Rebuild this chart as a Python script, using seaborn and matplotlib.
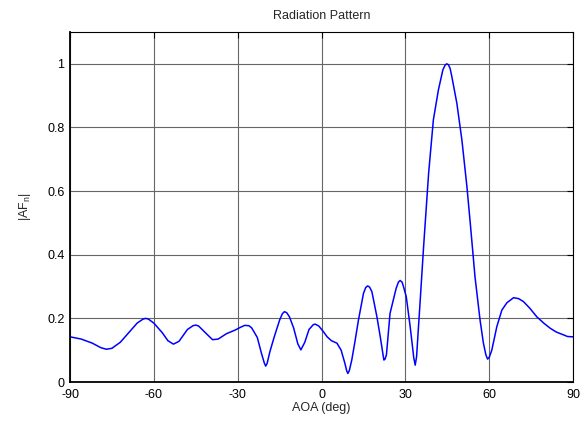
import pandas as pd
import seaborn as sns
import matplotlib.pyplot as plt

# Values (angle in deg, normalised |AF|)
aoa = [-90, -86, -82, -79, -77, -75, -72, -69, -66, -64, -63, -62, -60, -57, -55,
       -53, -51, -48, -46, -45, -44, -41, -39, -37, -34, -31, -29, -27.5, -26,
       -25, -23, -21.5, -20.5, -20, -19.5, -18.5, -17, -15, -14, -13.3, -12.5,
       -11.5, -10, -8.5, -7.4, -6, -4.5, -3, -2.3, -1, 0.5, 2, 3.5, 5.5, 7, 8.3,
       9, 9.4, 9.9, 10.8, 12, 13.2, 15, 15.8, 16.5, 17.2, 18, 19.8, 21, 22, 22.3,
       22.7, 23.2, 24.5, 26.7, 27.5, 28.1, 28.8, 29.3, 30.3, 31.7, 33, 33.5, 34,
       34.5, 35.3, 36.5, 38.3, 40, 41.8, 43.4, 44.2, 44.8, 45.4, 46, 46.6, 48.4,
       50.2, 52, 53.2, 54.9, 56.7, 57.9, 58.8, 59.4, 60, 60.9, 62.7, 64.5, 66.3,
       68.7, 70.5, 72.2, 74.5, 77, 79.5, 81.8, 84, 86.6, 88, 90]
af = [0.142, 0.135, 0.122, 0.108, 0.103, 0.106, 0.125, 0.155, 0.185, 0.197, 0.200,
      0.198, 0.185, 0.155, 0.130, 0.119, 0.128, 0.165, 0.177, 0.179, 0.176, 0.150,
      0.133, 0.135, 0.152, 0.163, 0.172, 0.178, 0.177, 0.170, 0.140, 0.090, 0.060,
      0.050, 0.058, 0.095, 0.140, 0.195, 0.215, 0.221, 0.218, 0.205, 0.170, 0.120,
      0.101, 0.125, 0.165, 0.180, 0.182, 0.176, 0.160, 0.142, 0.130, 0.122, 0.100,
      0.060, 0.035, 0.027, 0.035, 0.069, 0.130, 0.195, 0.279, 0.297, 0.302, 0.298,
      0.284, 0.205, 0.142, 0.085, 0.069, 0.072, 0.085, 0.216, 0.295, 0.314, 0.319,
      0.314, 0.300, 0.268, 0.174, 0.075, 0.053, 0.080, 0.150, 0.258, 0.425, 0.656,
      0.824, 0.918, 0.981, 0.996, 1.000, 0.997, 0.985, 0.960, 0.876, 0.761, 0.614,
      0.499, 0.330, 0.195, 0.122, 0.085, 0.072, 0.078, 0.100, 0.174, 0.226, 0.249,
      0.265, 0.262, 0.253, 0.232, 0.205, 0.185, 0.169, 0.157, 0.148, 0.143, 0.142]
x_ticks = [-90, -60, -30, 0, 30, 60, 90]
y_ticks = [0, 0.2, 0.4, 0.6, 0.8, 1]

pattern = pd.DataFrame({'AOA': aoa, 'AF': af})

sns.set_style('white')
plt.rcParams['font.family'] = ['Liberation Sans', 'DejaVu Sans']
plt.rcParams['mathtext.fontset'] = 'custom'
plt.rcParams['mathtext.rm'] = 'Liberation Sans'
plt.rcParams['axes.unicode_minus'] = False

fig = plt.figure(figsize=(5.85, 4.21), dpi=100)
ax = fig.add_axes([0.1197, 0.0926, 0.86, 0.8314])
sns.lineplot(data=pattern, x='AOA', y='AF', color='#0000ff', linewidth=1.1, ax=ax)

ax.set_xlim(-90, 90)
ax.set_ylim(0, 1.1)
ax.set_xticks(x_ticks)
ax.set_yticks(y_ticks)
ax.set_yticklabels(['0', '0.2', '0.4', '0.6', '0.8', '1'])
ax.grid(True, color='0.4', linewidth=0.8)
ax.tick_params(direction='in', length=4, labelsize=9, colors='black',
               top=True, right=True)
ax.tick_params(axis='x', pad=5)
ax.tick_params(axis='y', pad=4)
for s in ax.spines.values():
    s.set_color('black')
    s.set_linewidth(0.8)
ax.spines['bottom'].set_linewidth(1.3)
ax.spines['left'].set_linewidth(1.3)

ax.set_title('Radiation Pattern', fontsize=9, pad=9)
ax.set_xlabel('AOA (deg)', fontsize=9, labelpad=1)
ax.set_ylabel(r'|AF$_\mathrm{n}$|', fontsize=9, labelpad=10)

fig.savefig('out.png', dpi=100)
